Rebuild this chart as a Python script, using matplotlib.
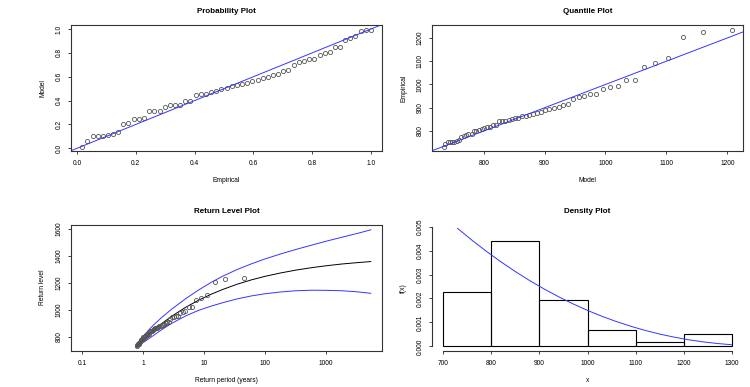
import matplotlib
matplotlib.use("Agg")
import matplotlib.pyplot as plt
from matplotlib.axes import Axes
from matplotlib.ticker import NullLocator

plt.rcParams['font.family'] = ['Liberation Sans', 'DejaVu Sans']

# Sorted sample (threshold exceedances)
empirical = [733, 742, 751, 751, 752, 754, 755, 760, 775, 777, 784, 785, 788, 801, 802, 803,
             810, 815, 816, 816, 824, 826, 841, 844, 844, 847, 851, 857, 858, 864, 866, 870,
             874, 879, 883, 890, 893, 899, 903, 912, 915, 936, 946, 949, 958, 959, 979, 988,
             995, 1021, 1021, 1077, 1091, 1114, 1206, 1227, 1236]

# Probability plot: empirical vs model probabilities
emp_prob = [0.018, 0.035, 0.053, 0.070, 0.088, 0.105, 0.123, 0.140, 0.158, 0.175, 0.193, 0.211,
            0.228, 0.246, 0.263, 0.281, 0.298, 0.316, 0.333, 0.351, 0.368, 0.386, 0.404, 0.421,
            0.439, 0.456, 0.474, 0.491, 0.509, 0.526, 0.544, 0.561, 0.579, 0.596, 0.614, 0.632,
            0.649, 0.667, 0.684, 0.702, 0.719, 0.737, 0.754, 0.772, 0.789, 0.807, 0.825, 0.842,
            0.860, 0.877, 0.895, 0.912, 0.930, 0.947, 0.965, 0.982, 1.000]
model_prob = [0.015, 0.058, 0.100, 0.100, 0.104, 0.113, 0.118, 0.140, 0.205, 0.213, 0.242, 0.246,
              0.258, 0.309, 0.313, 0.316, 0.343, 0.361, 0.364, 0.364, 0.393, 0.400, 0.450, 0.459,
              0.459, 0.469, 0.481, 0.500, 0.503, 0.521, 0.527, 0.538, 0.550, 0.564, 0.574, 0.593,
              0.601, 0.616, 0.626, 0.648, 0.655, 0.702, 0.722, 0.728, 0.746, 0.748, 0.783, 0.798,
              0.809, 0.846, 0.846, 0.909, 0.921, 0.939, 0.983, 0.988, 0.990]

# Quantile plot: model quantiles
model_quant = [734, 737, 741, 744, 748, 752, 756, 759, 763, 767, 771, 775, 780, 784, 788, 792,
               797, 801, 806, 811, 815, 820, 825, 830, 835, 841, 846, 851, 857, 863, 869, 875,
               881, 887, 894, 901, 908, 915, 923, 930, 938, 947, 956, 965, 975, 985, 996, 1007,
               1020, 1033, 1048, 1064, 1082, 1103, 1128, 1160, 1207]

# Return level plot
emp_period = [0.78, 0.79, 0.81, 0.82, 0.84, 0.86, 0.87, 0.89, 0.91, 0.93, 0.95, 0.97, 0.99, 1.01,
              1.03, 1.06, 1.09, 1.11, 1.14, 1.17, 1.20, 1.24, 1.27, 1.31, 1.35, 1.39, 1.44, 1.48,
              1.53, 1.59, 1.65, 1.71, 1.78, 1.85, 1.93, 2.02, 2.12, 2.22, 2.34, 2.47, 2.62, 2.78,
              2.97, 3.18, 3.42, 3.71, 4.04, 4.45, 4.94, 5.56, 6.36, 7.41, 8.90, 11.12, 14.83,
              22.24, 44.49]
rl_period = [0.767, 0.78, 0.8, 0.83, 0.87, 0.92, 1.0, 1.1, 1.25, 1.5, 2, 3, 5, 8, 13, 20,
             35, 60, 100, 180, 320, 600, 1000, 1800, 3200, 5357]
rl_level = [730, 733, 738, 746, 755, 766, 782, 799, 822, 853, 899, 957, 1021, 1072, 1117, 1152,
            1192, 1224, 1250, 1275, 1296, 1315, 1328, 1341, 1351, 1359]
rl_upper = [735, 740, 748, 759, 771, 785, 804, 826, 855, 892, 944, 1010, 1085, 1147, 1205, 1250,
            1301, 1343, 1379, 1416, 1449, 1483, 1510, 1539, 1567, 1594]
rl_lower = [725, 726, 728, 733, 739, 747, 760, 772, 789, 814, 854, 904, 957, 997, 1029, 1054,
            1083, 1105, 1121, 1134, 1143, 1147, 1146, 1143, 1135, 1124]

# Density plot
dens_x = [730, 760, 790, 820, 850, 880, 910, 940, 970, 1000, 1030, 1060, 1090, 1120, 1150, 1180,
          1210, 1240, 1270, 1300]
dens_y = [0.004926, 0.004431, 0.003967, 0.003531, 0.003124, 0.002745, 0.002394, 0.002070,
          0.001773, 0.001501, 0.001256, 0.001035, 0.000838, 0.000664, 0.000513, 0.000384,
          0.000276, 0.000187, 0.000118, 0.000066]
hist_bins = [700, 800, 900, 1000, 1100, 1200, 1300]

W, H = 750, 387
BLUE = '#3535ff'
POINT_STYLE = dict(linestyle='none', marker='o', mfc='none', mec='#555555', ms=3.0, mew=0.6)

fig = plt.figure(figsize=(7.5, 3.87), dpi=100)


def px_axes(left: float, top: float, right: float, bottom: float) -> Axes:
    """Add axes using pixel edges of the plot box."""
    return fig.add_axes([left / W, 1 - bottom / H, (right - left) / W, (bottom - top) / H])


def style_axes(ax: Axes, title: str, xlabel: str, ylabel: str) -> None:
    """R-like base graphics look."""
    ax.set_title(title, fontsize=5.8, fontweight='bold', pad=8.5)
    ax.set_xlabel(xlabel, fontsize=4.8, labelpad=7)
    ax.set_ylabel(ylabel, fontsize=4.8, labelpad=7)
    ax.tick_params(direction='out', length=2.2, width=0.6, labelsize=4.8, color='#222222')
    ax.tick_params(axis='x', pad=4.5)
    ax.tick_params(axis='y', pad=3.5, labelrotation=90)
    plt.setp(ax.get_yticklabels(), va='center')
    for spine in ax.spines.values():
        spine.set_linewidth(0.8)
        spine.set_color('#333333')


# Probability plot
ax = px_axes(70.7, 24.7, 382.3, 151)
ax.plot(emp_prob, model_prob, **POINT_STYLE)
ax.axline((0, 0), slope=1, color=BLUE, lw=0.7)
ax.set_xlim(-0.0214, 1.0384)
ax.set_ylim(-0.0226, 1.036)
ticks01 = [0, 0.2, 0.4, 0.6, 0.8, 1.0]
ax.set_xticks(ticks01)
ax.set_xticklabels([f"{t:.1f}" for t in ticks01])
ax.set_yticks(ticks01)
ax.set_yticklabels([f"{t:.1f}" for t in ticks01])
style_axes(ax, "Probability Plot", "Empirical", "Model")

# Quantile plot
ax = px_axes(431.7, 24.7, 743.3, 151)
ax.plot(model_quant, empirical, **POINT_STYLE)
ax.axline((800, 800), slope=1, color=BLUE, lw=0.7)
ax.set_xlim(714.6, 1226.3)
ax.set_ylim(714, 1257)
ax.set_xticks([800, 900, 1000, 1100, 1200])
ax.set_yticks([800, 900, 1000, 1100, 1200])
style_axes(ax, "Quantile Plot", "Model", "Empirical")

# Return level plot
ax = px_axes(70.7, 224.7, 382.3, 350.7)
ax.plot(rl_period, rl_level, color='black', lw=0.7)
ax.plot(rl_period, rl_upper, color=BLUE, lw=0.7)
ax.plot(rl_period, rl_lower, color=BLUE, lw=0.7)
ax.plot(emp_period, empirical, **POINT_STYLE)
ax.set_xscale('log')
ax.set_xlim(10 ** -1.187, 10 ** 3.918)
ax.set_ylim(699, 1632)
ax.set_xticks([0.1, 1, 10, 100, 1000])
ax.set_xticklabels(['0.1', '1', '10', '100', '1000'])
ax.xaxis.set_minor_locator(NullLocator())
ax.set_yticks([800, 1000, 1200, 1400, 1600])
style_axes(ax, "Return Level Plot", "Return period (years)", "Return level")

# Density plot (no box, like R's hist)
ax = px_axes(431.7, 224.7, 743.3, 350.7)
ax.hist(empirical, bins=hist_bins, density=True, fill=False, edgecolor='black', lw=0.8)
ax.plot(dens_x, dens_y, color=BLUE, lw=0.7)
ax.set_xlim(676, 1324)
ax.set_ylim(-0.000183, 0.005083)
ax.set_xticks(hist_bins)
dens_ticks = [0, 0.001, 0.002, 0.003, 0.004, 0.005]
ax.set_yticks(dens_ticks)
ax.set_yticklabels([f"{t:.3f}" for t in dens_ticks])
style_axes(ax, "Density Plot", "x", "f(x)")
ax.spines['top'].set_visible(False)
ax.spines['right'].set_visible(False)
ax.spines['left'].set_bounds(0, 0.005)
ax.spines['bottom'].set_bounds(700, 1300)

fig.savefig("out.png", dpi=100)
